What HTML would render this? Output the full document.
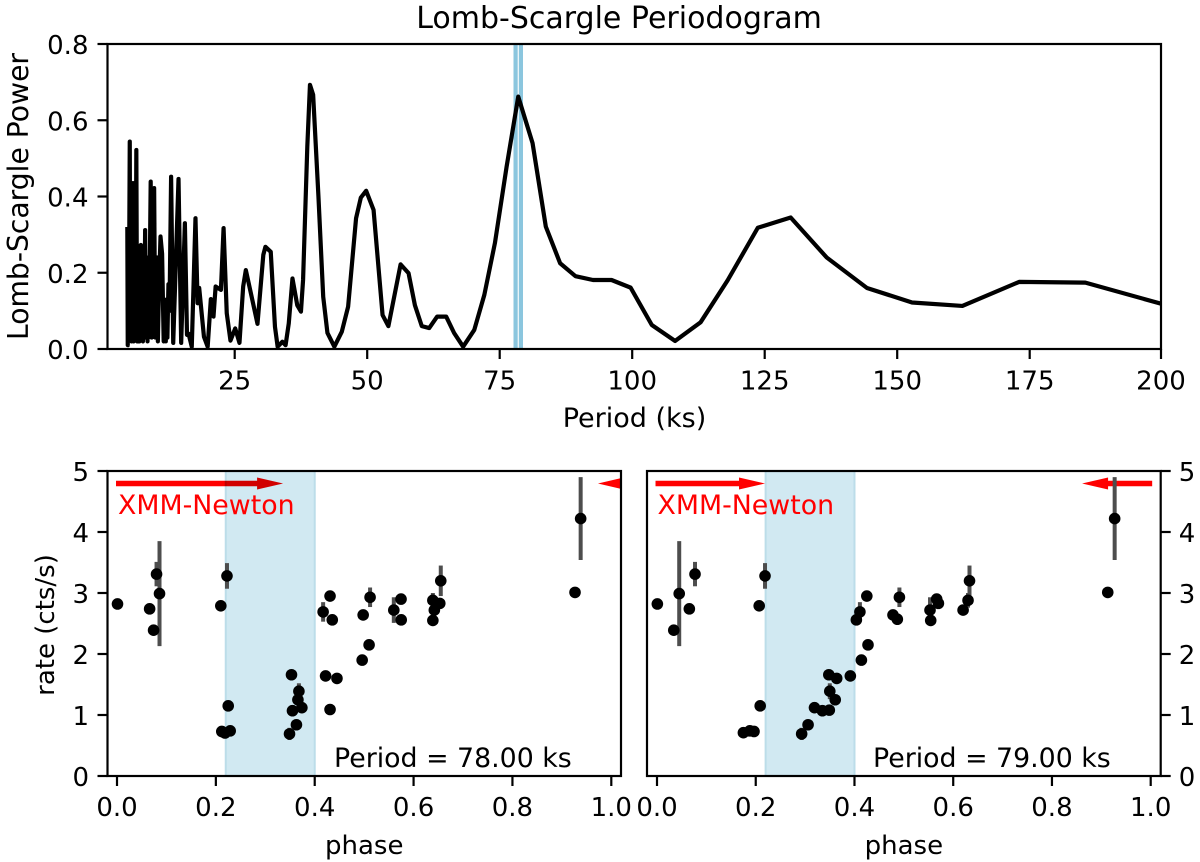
<!DOCTYPE html>
<html lang="en">
<head>
<meta charset="utf-8">
<title>Lomb-Scargle Periodogram</title>
<style>
  html, body { margin: 0; padding: 0; background: #fff; width: 1200px; height: 862px; overflow: hidden; }
  svg { display: block; font-family: "DejaVu Sans", "Liberation Sans", sans-serif; filter: blur(0.35px); }
</style>
</head>
<body>
<svg id="chart" xmlns="http://www.w3.org/2000/svg" width="1200" height="862" viewBox="0 0 1200 862">
  <defs>
    <clipPath id="clip-top"><rect x="107.5" y="44" width="1053.5" height="305"/></clipPath>
    <clipPath id="clip-left"><rect x="107.5" y="471" width="513.5" height="305"/></clipPath>
    <clipPath id="clip-right"><rect x="647" y="471" width="513.7" height="305"/></clipPath>
  </defs>
</svg>
<script>
// ---- Periodogram data ----
const periods = [4.74,4.82,4.92,5.02,5.2,5.3,5.42,5.52,5.62,5.7,5.8,5.92,6.02,6.12,6.22,6.3,6.44,6.58,6.7,6.8,6.92,7.02,7.14,7.3,7.42,7.55,7.68,7.8,7.92,8.1,8.25,8.4,8.55,8.7,8.85,9.15,9.3,9.45,9.6,9.8,10,10.15,10.35,10.5,10.7,11,11.3,11.6,11.85,12,12.15,12.3,12.5,12.7,13,13.4,14.4,14.9,15.6,16,16.3,16.9,17.6,18,18.3,19.2,19.9,20.5,21,21.4,22.4,22.9,23.5,24.2,25.1,25.9,26.6,27.1,28.2,29.3,30.4,30.8,31.8,32.6,33.1,34,34.6,35.2,35.9,36.8,37.5,37.9,38.7,39.2,39.8,40.8,41.7,42.5,43.8,45.2,46.4,47.9,48.8,49.8,51.2,52.9,54,56.3,57.8,59,60.3,61.7,63.2,64.9,66.4,68.1,70.2,72.1,74.1,76.3,78.5,81.2,83.7,86.4,89.3,92.6,96.1,99.7,103.7,108.1,112.9,118,123.7,129.9,136.7,144.3,152.8,162.3,173,185.5,200];
const powers = [0.32,0.01,0.3,0.05,0.544,0.03,0.27,0.02,0.28,0.05,0.435,0.02,0.28,0.03,0.26,0.04,0.522,0.02,0.25,0.02,0.27,0.02,0.27,0.273,0.03,0.25,0.02,0.26,0.03,0.312,0.03,0.24,0.02,0.2,0.04,0.439,0.03,0.25,0.04,0.422,0.03,0.2,0.24,0.02,0.15,0.295,0.25,0.02,0.1,0.02,0.13,0.03,0.17,0.1,0.452,0.016,0.446,0.016,0.33,0.037,0.04,0.006,0.343,0.12,0.16,0.032,0.006,0.131,0.085,0.164,0.155,0.317,0.094,0.022,0.054,0.016,0.164,0.207,0.137,0.066,0.247,0.268,0.255,0.058,0.006,0.019,0.01,0.067,0.185,0.115,0.098,0.181,0.531,0.693,0.667,0.4,0.137,0.042,0.006,0.045,0.111,0.343,0.397,0.415,0.365,0.089,0.06,0.222,0.199,0.115,0.06,0.055,0.085,0.085,0.042,0.006,0.05,0.142,0.278,0.478,0.662,0.54,0.321,0.225,0.191,0.181,0.181,0.161,0.063,0.021,0.07,0.18,0.318,0.345,0.24,0.16,0.122,0.113,0.176,0.174,0.118];
const candidatePeriods = [78, 79];
const periodTicks = [25, 50, 75, 100, 125, 150, 175, 200];
const powerTicks = [0, 0.2, 0.4, 0.6, 0.8];

// ---- Folded light curve, left panel (P = 78 ks) ----
const phaseA = [0.001,0.066,0.074,0.080,0.086,0.210,0.2225,0.225,0.212,0.2185,0.229,0.353,0.368,0.366,0.374,0.355,0.363,0.349,0.417,0.431,0.4355,0.422,0.445,0.431,0.498,0.496,0.510,0.512,0.560,0.5746,0.575,0.639,0.642,0.639,0.653,0.655,0.938,0.9266];
const rateA = [2.82,2.74,2.39,3.31,2.99,2.79,3.28,1.15,0.73,0.705,0.74,1.66,1.39,1.25,1.12,1.07,0.84,0.69,2.69,2.95,2.56,1.64,1.60,1.09,2.64,1.90,2.15,2.93,2.72,2.90,2.56,2.88,2.72,2.55,2.83,3.20,4.22,3.01];
const errA = [0.03,0.03,0.03,0.20,0.86,0.03,0.21,0.08,0.03,0.03,0.03,0.03,0.13,0.05,0.05,0.05,0.05,0.10,0.16,0.03,0.05,0.03,0.03,0.03,0.03,0.03,0.03,0.16,0.21,0.03,0.03,0.12,0.05,0.03,0.05,0.25,0.68,0.03];

// ---- Folded light curve, right panel (P = 79 ks) ----
const phaseB = [0.0007,0.0655,0.034,0.077,0.045,0.207,0.2188,0.209,0.175,0.188,0.1965,0.348,0.350,0.361,0.364,0.319,0.335,0.349,0.306,0.293,0.3916,0.4038,0.411,0.425,0.414,0.4274,0.478,0.4868,0.491,0.553,0.5544,0.5665,0.570,0.620,0.630,0.633,0.927,0.913];
const rateB = [2.82,2.74,2.39,3.31,2.99,2.79,3.28,1.15,0.71,0.74,0.73,1.66,1.39,1.25,1.60,1.12,1.07,1.08,0.84,0.69,1.64,2.56,2.69,2.95,1.90,2.15,2.64,2.57,2.93,2.72,2.55,2.90,2.83,2.72,2.88,3.20,4.22,3.01];
const errB = [0.03,0.03,0.03,0.20,0.86,0.03,0.21,0.08,0.03,0.03,0.03,0.03,0.13,0.05,0.03,0.05,0.03,0.03,0.05,0.10,0.03,0.03,0.16,0.03,0.03,0.03,0.03,0.03,0.16,0.21,0.03,0.03,0.03,0.05,0.12,0.25,0.68,0.03];

const phaseTicks = [0, 0.2, 0.4, 0.6, 0.8, 1.0];
const rateTicks = [0, 1, 2, 3, 4, 5];
const shadeBand = [0.22, 0.40];
const arrowsA = [[-0.002, 0.336], [1.05, 0.973]];
const arrowsB = [[-0.003, 0.2188], [1.003, 0.861]];

const NS = 'http://www.w3.org/2000/svg';
const svg = document.getElementById('chart');
function mk(tag, attrs, parent, text) {
  const el = document.createElementNS(NS, tag);
  for (const k in attrs) el.setAttribute(k, attrs[k]);
  if (text !== undefined) el.textContent = text;
  (parent || svg).appendChild(el);
  return el;
}
let el;

// ---- Axis functions ----
const xPeriod = p => 234.7 + (p - 25) * 5.3;
const yPower = v => 349 - v * 381.25;
const yRate = r => 776 - r * 61;
const xPhaseA = f => 117 + f * 494.3;
const xPhaseB = f => 657 + f * 493.7;

const TICK = '#000', FS = 26, SPINE = 2.2;

// ---- Top panel ----
const topPanel = mk('g', {});



el = mk('text', {x: 619, y: 28, 'font-size': 30, 'text-anchor': 'middle', fill: '#000'}, topPanel, 'Lomb-Scargle Periodogram');



candidatePeriods.forEach(p => {
  const line = mk('line', {x1: xPeriod(p), x2: xPeriod(p), y1: 44, y2: 349, stroke: '#8bc6de', 'stroke-width': 4.2}, topPanel);
  
  
});

el = mk('polyline', {
  points: periods.map((p, i) => xPeriod(p).toFixed(2) + ',' + yPower(powers[i]).toFixed(2)).join(' '),
  fill: 'none', stroke: '#000', 'stroke-width': 4.2, 'stroke-linejoin': 'round',
  'clip-path': 'url(#clip-top)'
}, topPanel);



el = mk('rect', {x: 107.5, y: 44, width: 1053.5, height: 305, fill: 'none', stroke: '#000', 'stroke-width': SPINE}, topPanel);



periodTicks.forEach(t => {
  const x = Math.min(xPeriod(t), 1161);
  const tick = mk('line', {x1: x, x2: x, y1: 349, y2: 359, stroke: TICK, 'stroke-width': SPINE}, topPanel);
  
  
  const label = mk('text', {x: x, y: 389.3, 'font-size': FS, 'text-anchor': 'middle', fill: '#000'}, topPanel, String(t));
  
  
});
powerTicks.forEach(t => {
  const y = yPower(t);
  const tick = mk('line', {x1: 97.5, x2: 107.5, y1: y, y2: y, stroke: TICK, 'stroke-width': SPINE}, topPanel);
  
  
  const label = mk('text', {x: 88.5, y: y + 10, 'font-size': FS, 'text-anchor': 'end', fill: '#000'}, topPanel, t.toFixed(1));
  
  
});
el = mk('text', {x: 634.5, y: 427, 'font-size': 27, 'text-anchor': 'middle', fill: '#000'}, topPanel, 'Period (ks)');


el = mk('text', {transform: 'translate(28 196.5) rotate(-90)', 'font-size': 28.2, 'text-anchor': 'middle', fill: '#000'}, topPanel, 'Lomb-Scargle Power');



// ---- Bottom panels ----
function drawPanel(cfg) {
  const g = mk('g', {});
  
  
  const plot = mk('g', {'clip-path': 'url(#' + cfg.clip + ')'}, g);
  
  

  cfg.arrows.forEach(a => {
    const x0 = cfg.x(a[0]), x1 = cfg.x(a[1]), dir = x1 > x0 ? 1 : -1, yA = 483.5;
    const headBase = x1 - dir * 26;
    const arrow = mk('polygon', {
      points: [[x0, yA - 2.8], [headBase, yA - 2.8], [headBase, yA - 6], [x1, yA], [headBase, yA + 6], [headBase, yA + 2.8], [x0, yA + 2.8]].map(p => p.join(',')).join(' '),
      fill: '#ff0000'
    }, plot);
    
    
  });

  const xa = cfg.x(shadeBand[0]), xb = cfg.x(shadeBand[1]);
  const band = mk('rect', {x: xa, y: 471, width: xb - xa, height: 305, fill: '#d1e9f2', stroke: '#bcdde9', 'stroke-width': 2, style: 'mix-blend-mode:multiply'}, plot);
  
  

  cfg.phase.forEach((f, i) => {
    const bar = mk('line', {x1: cfg.x(f), x2: cfg.x(f), y1: yRate(cfg.rate[i] + cfg.err[i]), y2: yRate(cfg.rate[i] - cfg.err[i]), stroke: '#4d4d4d', 'stroke-width': 4}, plot);
    
    
  });
  cfg.phase.forEach((f, i) => {
    const pt = mk('circle', {cx: cfg.x(f), cy: yRate(cfg.rate[i]), r: 5.8, fill: '#000'}, plot);
    
    
  });

  const frame = mk('rect', {x: cfg.left, y: 471, width: cfg.right - cfg.left, height: 305, fill: 'none', stroke: '#000', 'stroke-width': SPINE}, g);
  
  

  phaseTicks.forEach(t => {
    const x = cfg.x(t);
    const tick = mk('line', {x1: x, x2: x, y1: 776, y2: 786, stroke: TICK, 'stroke-width': SPINE}, g);
    
    
    const label = mk('text', {x: x, y: 816, 'font-size': FS, 'text-anchor': 'middle', fill: '#000'}, g, t.toFixed(1));
    
    
  });
  rateTicks.forEach(t => {
    const y = yRate(t);
    const onRight = cfg.side === 'right';
    const tick = mk('line', {x1: onRight ? cfg.right : cfg.left - 10, x2: onRight ? cfg.right + 10 : cfg.left, y1: y, y2: y, stroke: TICK, 'stroke-width': SPINE}, g);
    
    
    const label = mk('text', {x: onRight ? cfg.right + 18 : cfg.left - 18.5, y: y + 10, 'font-size': FS, 'text-anchor': onRight ? 'start' : 'end', fill: '#000'}, g, String(t));
    
    
  });

  const x0 = cfg.left + 10.5;
  const xmm = mk('text', {x: x0, y: 514, 'font-size': 26.8, fill: '#ff0000'}, g, 'XMM-Newton');
  
  
  const per = mk('text', {x: cfg.periodX, y: 767, 'font-size': 26.8, fill: '#000'}, g, cfg.periodText);
  
  
  const xl = mk('text', {x: (cfg.left + cfg.right) / 2, y: 854, 'font-size': FS, 'text-anchor': 'middle', fill: '#000'}, g, 'phase');
  
  
}

drawPanel({name: 'left-phase-panel', clip: 'clip-left', x: xPhaseA, left: 107.5, right: 621, side: 'left',
  phase: phaseA, rate: rateA, err: errA, arrows: arrowsA, periodX: 334, periodText: 'Period = 78.00 ks'});
drawPanel({name: 'right-phase-panel', clip: 'clip-right', x: xPhaseB, left: 647, right: 1160.7, side: 'right',
  phase: phaseB, rate: rateB, err: errB, arrows: arrowsB, periodX: 873, periodText: 'Period = 79.00 ks'});

el = mk('text', {transform: 'translate(54 625) rotate(-90)', 'font-size': FS, 'text-anchor': 'middle', fill: '#000'}, svg, 'rate (cts/s)');


</script>
</body>
</html>
